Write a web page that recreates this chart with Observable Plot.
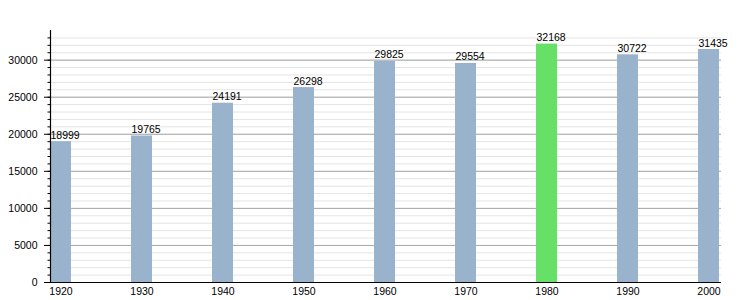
<!DOCTYPE html>
<html><head><meta charset="utf-8">
<script src="https://cdn.jsdelivr.net/npm/d3@7"></script>
<script src="https://cdn.jsdelivr.net/npm/@observablehq/plot@0.6"></script>
<style>body{margin:0;background:#fff;font-family:"Liberation Sans",Arial,sans-serif}</style>
</head><body><div id="chart"></div>
<script>
const years = [1920, 1930, 1940, 1950, 1960, 1970, 1980, 1990, 2000];
const population = [18999, 19765, 24191, 26298, 29825, 29554, 32168, 30722, 31435];
const highlightYear = 1980;
const majorTicks = [0, 5000, 10000, 15000, 20000, 25000, 30000];
const minorTicks = d3.range(0, 33001, 1000);

const data = years.map((y, i) => ({year: String(y), value: population[i], hl: y === highlightYear}));

const chart = Plot.plot({
  width: 750, height: 300,
  marginLeft: 50, marginRight: 29, marginTop: 30, marginBottom: 18,
  style: {fontFamily: '"Liberation Sans", Arial, sans-serif', fontSize: "10.5px", color: "#000", background: "#fff"},
  x: {type: "band", domain: years.map(String), paddingInner: 0.742, paddingOuter: 0, align: 0},
  y: {domain: [0, 34000]},
  marks: [
    Plot.gridY(minorTicks, {stroke: "#e4e4e4", strokeOpacity: 1}),
    Plot.gridY(majorTicks, {stroke: "#a8a8a8", strokeOpacity: 1}),
    Plot.barY(data, {x: "year", y: "value", fill: d => d.hl ? "#66e066" : "#99b3cc"}),
    Plot.text(data, {x: "year", y: "value", text: d => String(d.value), textAnchor: "start", lineAnchor: "bottom", dx: -10.5, dy: -3, fill: "#000", fontSize: 10.5}),
    Plot.axisY(minorTicks, {tickSize: 2.5, tickFormat: () => "", label: null, stroke: "#000"}),
    Plot.axisY(majorTicks, {tickSize: 6, tickPadding: 7, label: null, tickFormat: d => String(d), fill: "#000", stroke: "#000", fontSize: 10.5}),
    Plot.axisX({tickSize: 0, tickPadding: 5, label: null, fill: "#000", fontSize: 10.5}),
    Plot.ruleY([0], {stroke: "#000", strokeWidth: 1.2}),
    Plot.ruleX([0], {x: () => years[0] + "", y1: 0, y2: 34000, stroke: "#000", strokeWidth: 1.2, dx: -10.5})
  ]
});
document.getElementById("chart").appendChild(chart);
</script></body></html>
